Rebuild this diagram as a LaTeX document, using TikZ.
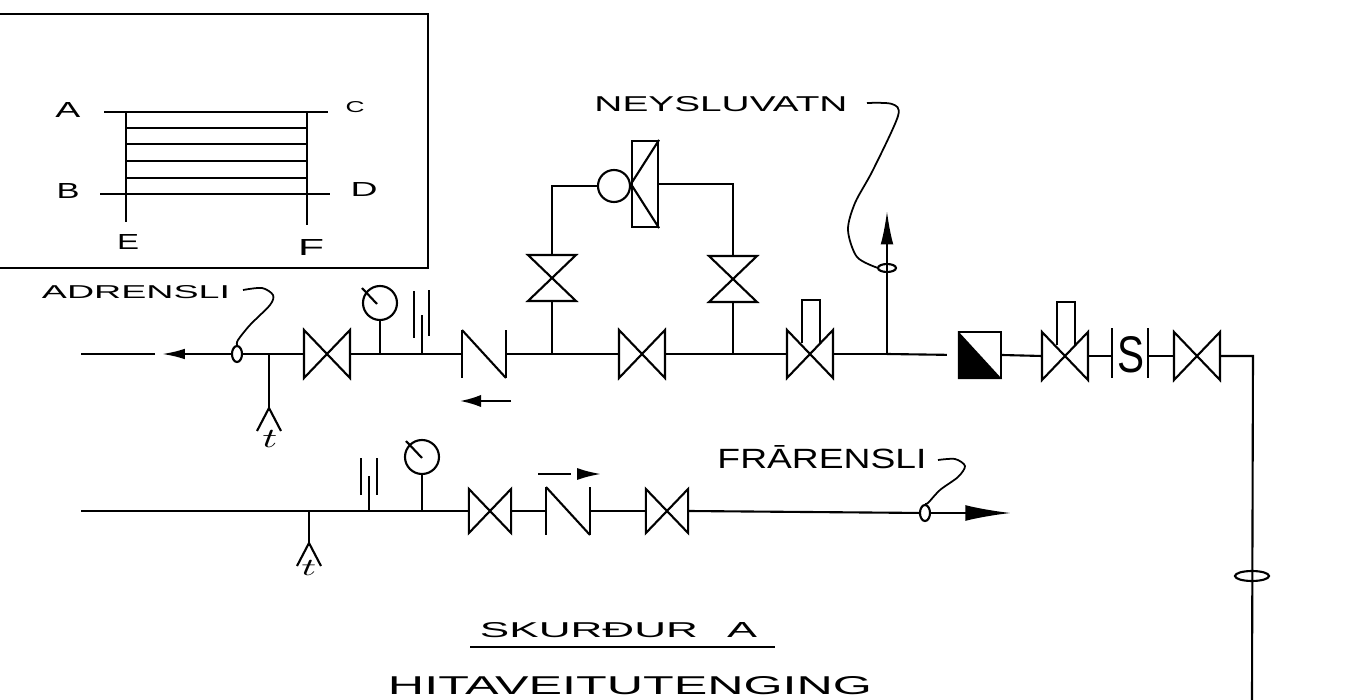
\documentclass[tikz,border=0pt]{standalone}
\usepackage{fontspec}
\setmainfont{Liberation Sans}
\usetikzlibrary{arrows.meta,shapes.geometric}

\newlength{\pxlen}
\setlength{\pxlen}{0.01cm}
\newcommand{\lettering}[3]{\resizebox{#1\pxlen}{#2\pxlen}{#3}}

\tikzset{
  pipe/.style={line width=0.6pt,black},
  leader/.style={line width=0.5pt,black},
  txt/.style={inner sep=0pt,outer sep=0pt},
  gaugenode/.style={circle,draw,line width=0.6pt,inner sep=0pt,minimum size=0.34cm},
  loopnode/.style={ellipse,draw,line width=0.6pt,inner sep=0pt},
  pics/valve/.style={code={
    \draw[pipe] (-23,-24) -- (23,24) -- (23,-24) -- (-23,24) -- cycle;
    \coordinate (-w) at (-23,0);
    \coordinate (-e) at (23,0);
  }},
  pics/handvalve/.style={code={
    \draw[pipe] (-23,-24) -- (23,24) -- (23,-24) -- (-23,24) -- cycle;
    \draw[pipe] (-8,-11) -- (-8,-54) -- (10,-54) -- (10,-11);
    \coordinate (-w) at (-23,0);
    \coordinate (-e) at (23,0);
  }},
  pics/checkvalve/.style={code={
    \draw[pipe] (-22,-24) -- (-22,24);
    \draw[pipe] (-22,-24) -- (22,24);
    \draw[pipe] (22,-24) -- (22,24);
    \coordinate (-w) at (-22,0);
    \coordinate (-e) at (22,0);
  }},
  pics/sensor/.style={code={
    \draw[pipe] (0,0) -- (0,#1);
    \draw[pipe] (-12,#1+23) -- (0,#1) -- (12,#1+23);
    \coordinate (-top) at (0,0);
  }},
}

\begin{document}
\begin{tikzpicture}[x=0.01cm,y=-0.01cm]
\useasboundingbox (0,0) rectangle (1353,700);

% inset
\draw[pipe] (0,14) -- (428,14) -- (428,268) -- (0,268);
\draw[pipe] (104,112) -- (328,112);
\draw[pipe] (100,194) -- (330,194);
\draw[pipe] (126,112) -- (126,222);
\draw[pipe] (307,112) -- (307,225);
\foreach \y in {128,144,161,178} {
  \draw[pipe] (126,\y) -- (307,\y);
}
\node[txt] (lblA) at (68,110) {\lettering{25}{15}{A}};
\node[txt] (lblB) at (68,191) {\lettering{23}{15}{B}};
\node[txt] (lblC) at (355,107) {\lettering{19}{11}{C}};
\node[txt] (lblD) at (364,189) {\lettering{27}{14}{D}};
\node[txt] (lblE) at (128,242) {\lettering{22}{15}{E}};
\node[txt] (lblF) at (311,247) {\lettering{26}{16}{F}};

% upper line
\pic (v1) at (327,354) {valve};
\pic (n1) at (484,354) {checkvalve};
\pic (v2) at (642,354) {valve};
\pic (v3) at (552,278) [rotate=90] {valve};
\pic (v4) at (733,279) [rotate=90] {valve};
\pic (h1) at (810,354) {handvalve};
\pic (h2) at (1065,356) {handvalve};
\pic (v5) at (1197,356) {valve};
\pic (s1) at (269,354) {sensor=54};
\node[txt] (t1) at (270,439) {\lettering{15}{17}{$t$}};

\node[loopnode,minimum width=0.10cm,minimum height=0.16cm] (ad) at (237,354) {};
\node[loopnode,minimum width=0.18cm,minimum height=0.08cm] (ney) at (887,268) {};
\node[loopnode,minimum width=0.34cm,minimum height=0.10cm] (ret) at (1252,576) {};

\coordinate (a1) at (162,354);
\coordinate (a2) at (155,354);
\coordinate (a3) at (81,354);
\draw[pipe,-{Latex[length=6.5pt,width=3pt]}] (ad) -- (a1);
\draw[pipe] (a2) -- (a3);
\draw[pipe] (ad) -- (v1-w);
\draw[pipe] (v1-e) -- (n1-w);
\draw[pipe] (n1-e) -- (v2-w);

\coordinate (j1) at (552,354);
\coordinate (j2) at (733,354);
\coordinate (j3) at (887,354);
\draw[pipe] (v2-e) -- (h1-w);
\draw[pipe] (j1) -- (v3-w);
\draw[pipe] (j2) -- (v4-w);
\draw[pipe] (h1-e) -- (j3);

% bypass
\node[gaugenode,minimum size=0.32cm] (pump) at (614,186) {};
\node[draw,line width=0.6pt,minimum width=0.26cm,minimum height=0.86cm,inner sep=0pt] (motor) at (645,184) {};
\draw[pipe] (v3-e) |- (pump.west);
\draw[pipe] (v4-e) |- (motor.east);
\draw[pipe] (motor.north east) -- (motor.west) -- (motor.south east);

% gauge and stubs
\node[gaugenode] (g1) at (380,303) {};
\coordinate (g1p) at (380,354);
\coordinate (g1n) at (362,288);
\coordinate (g1m) at (377,304);
\draw[pipe] (g1) -- (g1p);
\draw[pipe] (g1n) -- (g1m);
\draw[pipe] (422,354) -- (422,315);
\draw[pipe] (414,291) -- (414,338);
\draw[pipe] (429,290) -- (429,336);

\coordinate (ar1) at (511,401);
\coordinate (ar2) at (460,401);
\draw[pipe,-{Latex[length=6pt,width=3.5pt]}] (ar1) -- (ar2);

% outlet arrow
\coordinate (up) at (887,211);
\draw[pipe,-{Latex[length=9.5pt,width=3.6pt]}] (j3) -- (up);

% right part
\node[draw,line width=0.6pt,minimum width=0.42cm,minimum height=0.46cm,inner sep=0pt] (filt) at (980,355) {};
\fill (filt.north west) -- (filt.south east) -- (filt.south west) -- cycle;
\draw[pipe,shorten >=0.11cm] (j3) -- (filt.west);
\draw[pipe] (filt.east) -- (h2-w);
\draw[pipe] (1112,328) -- (1112,378);
\draw[pipe] (1148,328) -- (1148,378);
\node[txt] (ess) at (1131,355) {\lettering{27}{36}{S}};
\coordinate (s2) at (1112,356);
\coordinate (s3) at (1148,356);
\draw[pipe] (h2-e) -- (s2);
\draw[pipe] (s3) -- (v5-w);
\coordinate (c1) at (1253,356);
\coordinate (c2) at (1252,700);
\draw[pipe] (v5-e) -- (c1) -- (c2);

% lower line
\pic (v6) at (490,511) [scale=0.92] {valve};
\pic (n2) at (568,511) {checkvalve};
\pic (v7) at (667,511) [scale=0.92] {valve};
\pic (s2b) at (309,511) {sensor=32};
\node[txt] (t2) at (309,568) {\lettering{15}{15}{$t$}};
\node[gaugenode] (g2) at (422,457) {};
\node[loopnode,minimum width=0.10cm,minimum height=0.16cm] (fr) at (925,513) {};

\coordinate (b1) at (81,511);
\coordinate (g2p) at (422,511);
\coordinate (g2n) at (406,441);
\coordinate (g2m) at (422,458);
\coordinate (b2) at (1011,513);
\draw[pipe] (b1) -- (v6-w);
\draw[pipe] (g2) -- (g2p);
\draw[pipe] (g2n) -- (g2m);
\draw[pipe] (369,511) -- (369,476);
\draw[pipe] (361,458) -- (361,495);
\draw[pipe] (377,458) -- (377,495);
\draw[pipe] (v6-e) -- (n2-w);
\draw[pipe] (n2-e) -- (v7-w);
\draw[pipe] (v7-e) -- (fr);
\draw[pipe,-{Latex[length=13pt,width=4.5pt]}] (fr) -- (b2);

\coordinate (ar3) at (538,474);
\coordinate (ar4) at (571,474);
\coordinate (ar5) at (577,474);
\coordinate (ar6) at (601,474);
\draw[pipe] (ar3) -- (ar4);
\draw[pipe,-{Latex[length=6.8pt,width=3.4pt]}] (ar5) -- (ar6);

% labels and leaders
\node[txt] (neylbl) at (721,104) {\lettering{253}{15}{NEYSLUVATN}};
\node[txt] (adlbl) at (136,292) {\lettering{188}{13}{ADRENSLI}};
\node[txt] (frlbl) at (822,457) {\lettering{209}{23}{FRĀRENSLI}};

\coordinate (l1) at (867,103);
\coordinate (l2) at (878,268);
\draw[leader] plot[smooth] coordinates {(l1) (892,104) (898,116) (873,170) (855,203) (848,230) (857,257) (l2)};
\coordinate (l3) at (243,290);
\draw[leader] plot[smooth] coordinates {(l3) (262,288) (273,295) (270,305) (250,325) (238,340) (ad.north)};
\coordinate (l4) at (938,460);
\draw[leader] plot[smooth] coordinates {(l4) (955,459) (965,466) (958,477) (940,490) (928,503) (fr.north)};

% title
\node[txt] (title) at (589,630) {\lettering{218}{15}{SKURÐUR}};
\node[txt] (titleb) at (742,630) {\lettering{30}{15}{A}};
\draw[pipe] (470,647) -- (775,647);
\node[txt] (sub) at (630,686) {\lettering{484}{18}{HITAVEITUTENGING}};
\end{tikzpicture}
\end{document}
